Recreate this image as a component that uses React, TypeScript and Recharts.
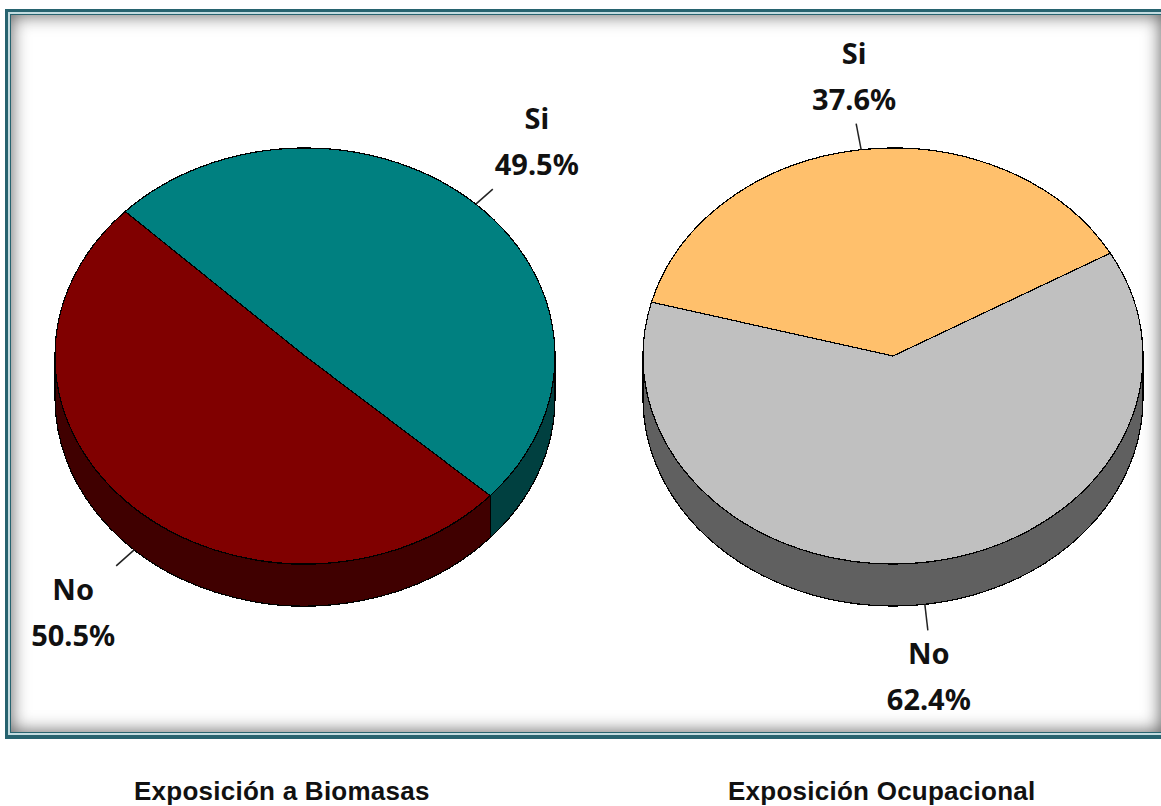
import React from "react";
import { PieChart, Pie } from "recharts";

const biomasaNames = ["Si", "No"];
const biomasaValues = [49.5, 50.5];
const biomasaColors = ["#008080", "#800000"];
const biomasaSides = ["#004040", "#400000"];

const ocupacionalNames = ["Si", "No"];
const ocupacionalValues = [37.6, 62.4];
const ocupacionalColors = ["#FFC06C", "#C0C0C0"];
const ocupacionalSides = ["#606060", "#606060"];

const captions = ["Exposición a Biomasas", "Exposición Ocupacional"];

const RX = 250;
const RY = 208;
const DEPTH = 42;
const RAD = Math.PI / 180;

const table = (names: string[], values: number[], colors: string[], sides: string[]) =>
  names.map((name, i) => ({ name, value: values[i], fill: colors[i], side: sides[i] }));

const biomasaData = table(biomasaNames, biomasaValues, biomasaColors, biomasaSides);
const ocupacionalData = table(ocupacionalNames, ocupacionalValues, ocupacionalColors, ocupacionalSides);

const pt = (cx: number, cy: number, a: number, dy = 0) => ({
  x: cx + RX * Math.cos(a * RAD),
  y: cy - RY * Math.sin(a * RAD) + dy,
});

function Slice3D(props: any) {
  const { cx, cy, startAngle, endAngle, fill, side } = props;
  const hi = Math.max(startAngle, endAngle);
  const lo = Math.min(startAngle, endAngle);
  const s = pt(cx, cy, hi);
  const e = pt(cx, cy, lo);
  const large = hi - lo > 180 ? 1 : 0;
  const top = `M${cx} ${cy}L${s.x} ${s.y}A${RX} ${RY} 0 ${large} 1 ${e.x} ${e.y}Z`;
  const walls: string[] = [];
  for (let k = -1; k <= 1; k++) {
    const a = Math.min(hi, 360 * k);
    const b = Math.max(lo, 360 * k - 180);
    if (a > b) {
      const p1 = pt(cx, cy, a);
      const p2 = pt(cx, cy, b);
      const p3 = pt(cx, cy, b, DEPTH);
      const p4 = pt(cx, cy, a, DEPTH);
      walls.push(
        `M${p1.x} ${p1.y}A${RX} ${RY} 0 0 1 ${p2.x} ${p2.y}L${p3.x} ${p3.y}A${RX} ${RY} 0 0 0 ${p4.x} ${p4.y}Z`
      );
    }
  }
  return (
    <g shapeRendering="crispEdges">
      {walls.map((d) => (
        <path key={d} d={d} fill={side} stroke="#000" strokeWidth={1.2} />
      ))}
      <path d={top} fill={fill} stroke="#000" strokeWidth={1.2} />
    </g>
  );
}

const biomasaLabelLayout = [
  { lx: 17, ly: -15, tx: 44, ty: -60 },
  { lx: -18, ly: 16, tx: -43, ty: 34 },
];
const ocupacionalLabelLayout = [
  { lx: -5, ly: -26, tx: -2, ty: -60 },
  { lx: 3, ly: 26, tx: 1, ty: 34 },
];

const makeLabel = (layout: typeof biomasaLabelLayout) => (props: any) => {
  const { cx, cy, midAngle, index, name, value } = props;
  const m = layout[index];
  const front = Math.sin(midAngle * RAD) < 0;
  const a = pt(cx, cy, midAngle, front ? DEPTH : 0);
  const ex = a.x + m.lx;
  const ey = a.y + m.ly;
  const textStyle = { fontFamily: "'Noto Sans', sans-serif", fontWeight: 700, fontSize: 29 };
  return (
    <g key={name}>
      <line x1={a.x} y1={a.y} x2={ex} y2={ey} stroke="#222" strokeWidth={1.5} />
      <text x={ex + m.tx} y={ey + m.ty} textAnchor="middle" fill="#111" style={textStyle}>
        {name}
      </text>
      <text x={ex + m.tx} y={ey + m.ty + 46} textAnchor="middle" fill="#111" style={textStyle}>
        {value.toFixed(1)}%
      </text>
    </g>
  );
};

const captionStyle: React.CSSProperties = {
  position: "absolute",
  top: 778,
  fontFamily: "'Liberation Sans', Arial, sans-serif",
  fontWeight: 700,
  fontSize: 26,
  lineHeight: "26px",
  color: "#111",
  whiteSpace: "nowrap",
  letterSpacing: 0.25,
};

export default function App() {
  return (
    <div style={{ position: "absolute", left: 0, top: 0, width: 1161, height: 806, overflow: "hidden", background: "#fff" }}>
      <div style={{ position: "absolute", left: 5, top: 9, width: 1170, height: 730, background: "#27636F" }}>
        <div style={{ position: "absolute", left: 3, top: 3, right: 3, bottom: 4, background: "#C4DCE0" }}>
          <div style={{ position: "absolute", left: 2, top: 2, right: 2, bottom: 2, background: "#27636F" }}>
            <div
              style={{
                position: "absolute",
                left: 1,
                top: 1,
                right: 9,
                bottom: 1,
                background: "#fff",
                boxShadow: "inset 0 0 18px rgba(0,0,0,0.65)",
              }}
            />
          </div>
        </div>
      </div>
      <div style={{ position: "absolute", left: 0, top: 0 }}>
        <PieChart width={1161} height={806} margin={{ top: 0, right: 0, bottom: 0, left: 0 }}>
          <Pie
            data={biomasaData}
            dataKey="value"
            nameKey="name"
            cx={305}
            cy={356}
            innerRadius={0}
            outerRadius={RX}
            startAngle={136}
            endAngle={-224}
            stroke="#000"
            shape={Slice3D}
            label={makeLabel(biomasaLabelLayout)}
            labelLine={false}
            isAnimationActive={false}
          />
          <Pie
            data={ocupacionalData}
            dataKey="value"
            nameKey="name"
            cx={893}
            cy={356}
            innerRadius={0}
            outerRadius={RX}
            startAngle={165}
            endAngle={-195}
            stroke="#000"
            shape={Slice3D}
            label={makeLabel(ocupacionalLabelLayout)}
            labelLine={false}
            isAnimationActive={false}
          />
        </PieChart>
      </div>
      <div style={{ ...captionStyle, left: 134 }}>{captions[0]}</div>
      <div style={{ ...captionStyle, left: 728 }}>{captions[1]}</div>
    </div>
  );
}
